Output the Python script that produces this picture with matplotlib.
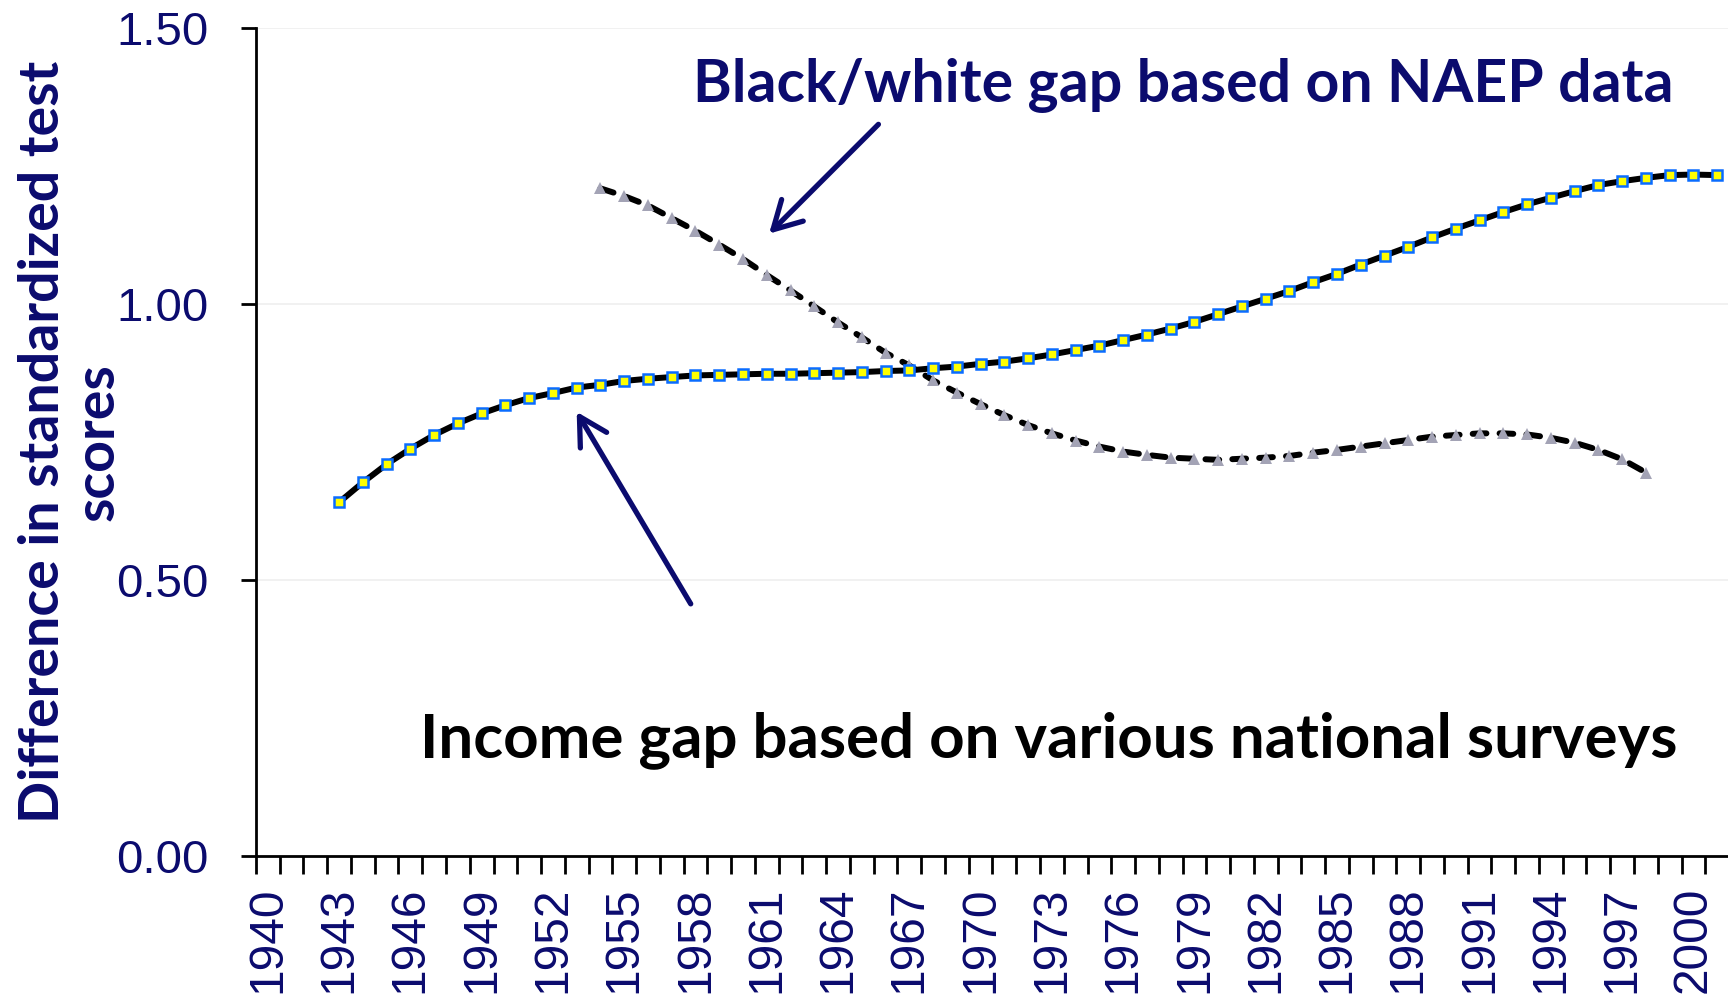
import matplotlib.pyplot as plt
from matplotlib.ticker import FixedLocator

# -----------------------------
# Data
# -----------------------------
income_years = list(range(1943, 2002))
income_gap = [0.641, 0.677, 0.710, 0.738, 0.763, 0.784, 0.802, 0.817, 0.830, 0.839,
              0.849, 0.854, 0.861, 0.865, 0.868, 0.871, 0.872, 0.873, 0.874, 0.874,
              0.875, 0.876, 0.877, 0.879, 0.880, 0.884, 0.887, 0.892, 0.896, 0.902,
              0.909, 0.917, 0.925, 0.935, 0.945, 0.956, 0.968, 0.982, 0.996, 1.010,
              1.024, 1.040, 1.055, 1.072, 1.088, 1.104, 1.121, 1.137, 1.152, 1.167,
              1.181, 1.193, 1.205, 1.216, 1.223, 1.229, 1.234, 1.235, 1.234]

naep_years = list(range(1954, 1999))
naep_gap = [1.210, 1.196, 1.179, 1.156, 1.133, 1.108, 1.082, 1.053, 1.025, 0.996,
            0.967, 0.940, 0.912, 0.889, 0.862, 0.840, 0.819, 0.799, 0.781, 0.766,
            0.753, 0.742, 0.733, 0.727, 0.722, 0.720, 0.718, 0.720, 0.722, 0.725,
            0.731, 0.736, 0.742, 0.748, 0.754, 0.760, 0.763, 0.766, 0.766, 0.764,
            0.758, 0.749, 0.736, 0.719, 0.695]

label_years = list(range(1940, 2002, 3))
y_ticks = [0.0, 0.5, 1.0, 1.5]

navy = "#0b0b6e"

# -----------------------------
# Figure
# -----------------------------
fig = plt.figure(figsize=(17.28, 9.94), dpi=100)
ax = fig.add_axes([0.1481, 0.1388, 0.8525, 0.8327])

ax.plot(naep_years, naep_gap, color="black", lw=4.3, dashes=(2.3, 2.2),
        dash_capstyle="round", marker="^", ms=8, mfc="#a3a3b5", mec="#a3a3b5",
        mew=0, zorder=3)
ax.plot(income_years, income_gap, color="black", lw=4.3, marker="s", ms=7.5,
        mfc="#ffff00", mec="#0a6cff", mew=1.8, zorder=4)

ax.set_xlim(1939.5, 2001.5)
ax.set_ylim(0, 1.5)

# category axis: tick marks between years, labels on every third year
ax.xaxis.set_major_locator(FixedLocator([y - 0.5 for y in range(1940, 2003)]))
ax.xaxis.set_minor_locator(FixedLocator(label_years))
ax.tick_params(axis="x", which="major", length=13, width=2, direction="out",
               labelbottom=False)
ax.tick_params(axis="x", which="minor", length=0, pad=22)
ax.set_xticklabels([str(y) for y in label_years], minor=True, rotation=90,
                   fontsize=34.5, color=navy, family="Liberation Sans", va="top")

ax.set_yticks(y_ticks)
ax.set_yticklabels(["%.2f" % v for v in y_ticks], fontsize=34, color=navy,
                   family="Liberation Sans")
ax.tick_params(axis="y", length=11, width=2, pad=23)
ax.grid(axis="y", color="#efefef", lw=1.2)
ax.set_axisbelow(True)

for side in ["top", "right"]:
    ax.spines[side].set_visible(False)
for side in ["left", "bottom"]:
    ax.spines[side].set_linewidth(2)

fig.text(0.0406, 0.555, "Difference in standardized test\nscores", rotation=90,
         ha="center", va="center", multialignment="center", fontsize=40,
         fontweight="bold", color=navy, family="Lato", linespacing=1.1)

# -----------------------------
# Annotations
# -----------------------------
ax.text(1957.9, 1.397, "Black/white gap based on NAEP data", fontsize=42.5,
        fontweight="bold", color=navy, family="Lato", va="center", ha="left")
ax.text(1946.4, 0.210, "Income gap based on various national surveys", fontsize=44.5,
        fontweight="bold", color="black", family="Lato", va="center", ha="left")

arrow = dict(arrowstyle="->,head_length=0.9,head_width=0.5", color=navy, lw=3.8,
             mutation_scale=22, shrinkA=0, shrinkB=0, capstyle="round")
ax.annotate("", xy=(1961.1, 1.128), xytext=(1965.7, 1.326), arrowprops=arrow)
ax.annotate("", xy=(1953.0, 0.805), xytext=(1957.8, 0.457), arrowprops=arrow)

fig.savefig("out.png", dpi=100, facecolor="white")
